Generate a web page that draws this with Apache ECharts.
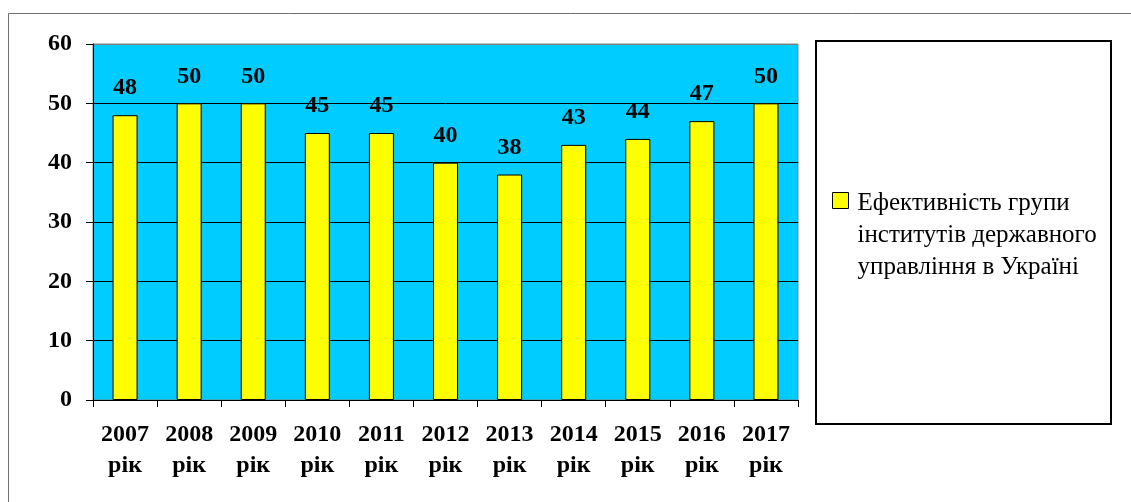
<!DOCTYPE html>
<html><head><meta charset="utf-8">
<script src="https://cdn.jsdelivr.net/npm/echarts@6/dist/echarts.min.js"></script>
<style>html,body{margin:0;padding:0;background:#fff}#c{width:1131px;height:502px}</style>
</head><body><div id="c"></div>
<script>
const categories = ['2007\nрік','2008\nрік','2009\nрік','2010\nрік','2011\nрік','2012\nрік','2013\nрік','2014\nрік','2015\nрік','2016\nрік','2017\nрік'];
const values = [48, 50, 50, 45, 45, 40, 38, 43, 44, 47, 50];
const seriesName = 'Ефективність групи\nінститутів державного\nуправління в Україні';
const yTicks = {min: 0, max: 60, interval: 10};

const FONT = "'Times New Roman', 'Liberation Serif', serif";
const chart = echarts.init(document.getElementById('c'));
chart.setOption({
  animation: false,
  graphic: [
    {type: 'rect', shape: {x: 8.5, y: 13.5, width: 1140, height: 500}, style: {fill: 'none', stroke: '#707070', lineWidth: 1}, z: -10},
    {type: 'rect', shape: {x: 816, y: 41, width: 295, height: 383}, style: {fill: '#fff', stroke: '#000', lineWidth: 2}, z: -5}
  ],
  grid: {left: 93, top: 44, right: 333, bottom: 102, show: true, backgroundColor: '#00CCFF', borderColor: '#808080', borderWidth: 1},
  legend: {
    left: 832, top: 187, padding: 0, orient: 'vertical', selectedMode: false,
    itemWidth: 20, itemHeight: 96, itemGap: 10,
    itemStyle: {borderColor: '#000', borderWidth: 1},
    textStyle: {fontFamily: FONT, fontSize: 25, color: '#000', lineHeight: 32},
    data: [{name: seriesName, icon: 'path://M0,0L0,0M0,5L16,5L16,21L0,21ZM20,96L20,96'}]
  },
  xAxis: {
    type: 'category', data: categories,
    axisLine: {lineStyle: {color: '#000', width: 1}},
    axisTick: {show: true, length: 7, lineStyle: {color: '#000'}},
    axisLabel: {fontFamily: FONT, fontWeight: 'bold', fontSize: 24, color: '#000', lineHeight: 31, margin: 19, interval: 0}
  },
  yAxis: {
    type: 'value', min: yTicks.min, max: yTicks.max, interval: yTicks.interval,
    axisLine: {show: true, lineStyle: {color: '#000', width: 1}},
    axisTick: {show: true, length: 7, lineStyle: {color: '#000'}},
    axisLabel: {fontFamily: FONT, fontWeight: 'bold', fontSize: 24, color: '#000', margin: 21},
    splitLine: {show: true, lineStyle: {color: ['#000','#000','#000','#000','#000','#000','#808080'], width: 1}}
  },
  series: [{
    name: seriesName, type: 'bar', data: values, barWidth: 25,
    itemStyle: {color: '#FFFF00', borderColor: '#000', borderWidth: 1},
    label: {show: true, position: 'top', distance: 15, fontFamily: FONT, fontWeight: 'bold', fontSize: 24, color: '#000'}
  }]
});
</script></body></html>
